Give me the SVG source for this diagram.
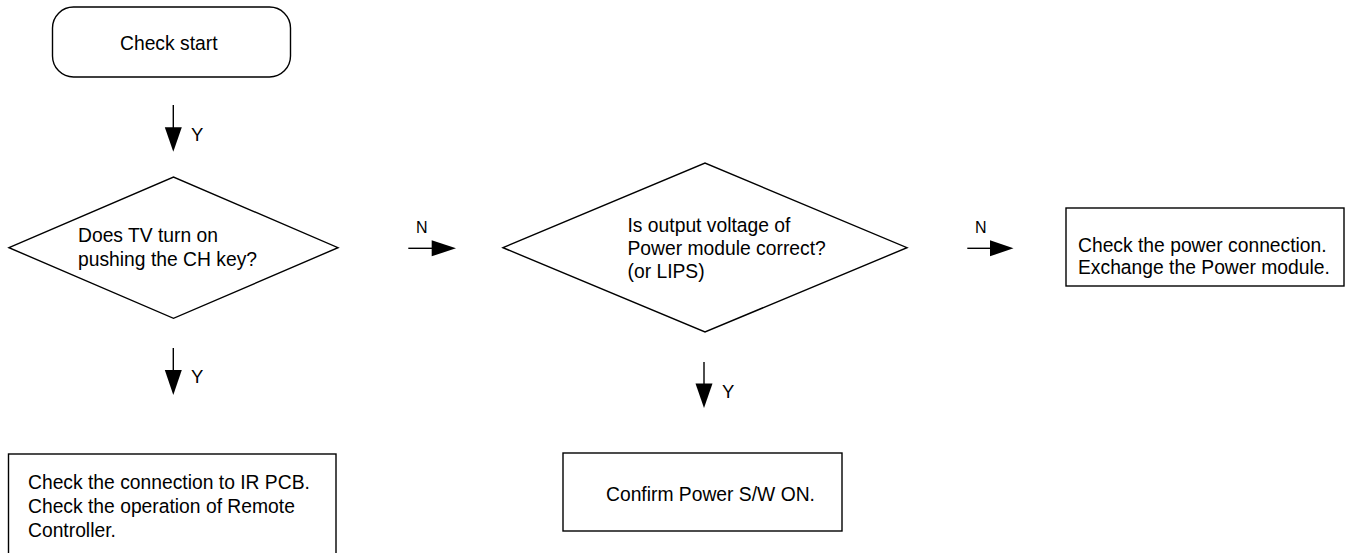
<svg xmlns="http://www.w3.org/2000/svg" width="1350" height="553" viewBox="0 0 1350 553">
<defs>
<style>
.shape{fill:#fff;stroke:#000;stroke-width:1.4}
.t{font-family:"Liberation Sans",Arial,sans-serif;font-size:19.3px;fill:#000}
.lbl{font-family:"Liberation Sans",Arial,sans-serif;font-size:16px;fill:#000}
.ylbl{font-family:"Liberation Sans",Arial,sans-serif;font-size:18.5px;fill:#000}
.conn{stroke:#000;stroke-width:1.4;fill:none}
.head{fill:#000;stroke:none}
</style>
</defs>
<rect width="1350" height="553" fill="#fff"/>
<g id="start">
<rect class="shape" x="52.5" y="7" width="238" height="70" rx="21" ry="21"/>
<text class="t" x="120" y="49.5">Check start</text>
</g>
<g id="decision1">
<polygon class="shape" points="9,247.7 173.5,177 338,247.7 173.5,318.3"/>
<text class="t" x="78" y="242">Does TV turn on</text>
<text class="t" x="78" y="265.5">pushing the CH key?</text>
</g>
<g id="decision2">
<polygon class="shape" points="503,247.7 705,163 907,247.7 705,332"/>
<text class="t" x="627.5" y="231.7">Is output voltage of</text>
<text class="t" x="627.5" y="255">Power module correct?</text>
<text class="t" x="627.5" y="278.3">(or LIPS)</text>
</g>
<g id="power-check">
<rect class="shape" x="1066" y="208" width="278" height="78"/>
<text class="t" x="1078" y="251.7">Check the power connection.</text>
<text class="t" x="1078" y="274">Exchange the Power module.</text>
</g>
<g id="ir-check">
<rect class="shape" x="8.5" y="454" width="327.5" height="120"/>
<text class="t" x="28" y="489">Check the connection to IR PCB.</text>
<text class="t" x="28" y="513">Check the operation of Remote</text>
<text class="t" x="28" y="537">Controller.</text>
</g>
<g id="confirm">
<rect class="shape" x="563" y="453" width="279" height="78"/>
<text class="t" x="606" y="501">Confirm Power S/W ON.</text>
</g>
<g id="connectors">
<line class="conn" x1="173.3" y1="105" x2="173.3" y2="130"/>
<polygon class="head" points="164.8,127.3 181.8,127.3 173.3,151.7"/>
<text class="ylbl" x="191" y="140.7">Y</text>
<line class="conn" x1="173.3" y1="348" x2="173.3" y2="372"/>
<polygon class="head" points="164.8,370 181.8,370 173.3,395"/>
<text class="ylbl" x="191" y="383">Y</text>
<line class="conn" x1="704" y1="362" x2="704" y2="386"/>
<polygon class="head" points="695.5,383.5 712.5,383.5 704,408"/>
<text class="ylbl" x="722" y="398.3">Y</text>
<line class="conn" x1="408.3" y1="248.3" x2="434" y2="248.3"/>
<polygon class="head" points="431.7,240.3 431.7,256.3 456,248.3"/>
<text class="lbl" x="416" y="233.3">N</text>
<line class="conn" x1="967.3" y1="248.3" x2="992" y2="248.3"/>
<polygon class="head" points="990,240.3 990,256.3 1013.5,248.3"/>
<text class="lbl" x="975" y="233.3">N</text>
</g>
</svg>
